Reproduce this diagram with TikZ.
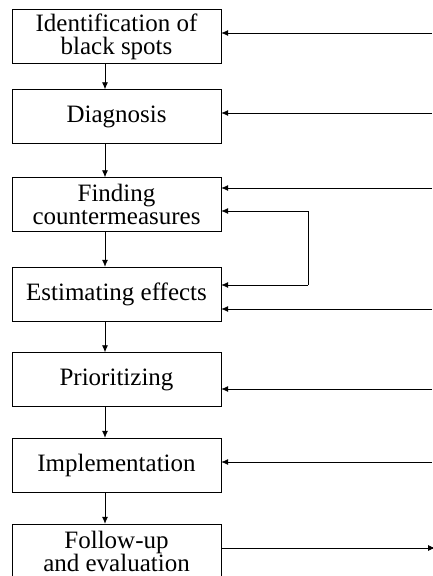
\documentclass[tikz,border=0pt]{standalone}
\usepackage{fontspec}
\setmainfont{Liberation Serif}
\usetikzlibrary{arrows.meta}

\begin{document}
\begin{tikzpicture}[x=1pt, y=-1pt, >={Latex[length=7pt,width=6pt]}]
    \tikzstyle{step_box}=[draw, rectangle, minimum width=209pt, minimum height=54pt, align=center, inner sep=0pt, font=\fontsize{25}{23}\selectfont]
    \tikzstyle{flow_edge}=[line width=0.8pt, ->]

    \useasboundingbox (0,0) rectangle (432,576);

    % --- Steps ---
    \node[step_box] (ident) at (116.5,36.5) {Identification of\\black spots};
    \node[step_box] (diag)  at (116.5,116.5) {Diagnosis};
    \node[step_box] (find)  at (116.5,204.5) {Finding\\countermeasures};
    \node[step_box] (est)   at (116.5,294) {Estimating effects};
    \node[step_box, text height=17pt, text depth=5pt] (prio)  at (116.5,379.5) {Prioritizing};
    \node[step_box] (impl)  at (116.5,465) {Implementation};
    \node[step_box] (follow) at (116.5,551) {Follow-up\\and evaluation};

    % --- Down arrows ---
    \coordinate (col) at (105,0);
    \draw[flow_edge] (ident.south -| col) -- (diag.north -| col);
    \draw[flow_edge] (diag.south -| col) -- (find.north -| col);
    \draw[flow_edge] (find.south -| col) -- (est.north -| col);
    \draw[flow_edge] (est.south -| col) -- (prio.north -| col);
    \draw[flow_edge] (prio.south -| col) -- (impl.north -| col);
    \draw[flow_edge] (impl.south -| col) -- (follow.north -| col);

    % --- Inputs from the right ---
    \coordinate (in1) at (432,33);
    \coordinate (in2) at (432,113);
    \coordinate (in3) at (432,188);
    \coordinate (in4) at (432,309);
    \coordinate (in5) at (432,389);
    \coordinate (in6) at (432,462);
    \draw[flow_edge] (in1) -- (ident.east |- in1);
    \draw[flow_edge] (in2) -- (diag.east |- in2);
    \draw[flow_edge] (in3) -- (find.east |- in3);
    \draw[flow_edge] (in4) -- (est.east |- in4);
    \draw[flow_edge] (in5) -- (prio.east |- in5);
    \draw[flow_edge] (in6) -- (impl.east |- in6);

    % Loop
    \coordinate (loop_top) at (308,211);
    \coordinate (loop_bot) at (308,285);
    \draw[flow_edge] (loop_bot) -- (loop_top) -- (find.east |- loop_top);
    \draw[flow_edge] (loop_bot) -- (est.east |- loop_bot);

    % Output
    \coordinate (out) at (435,548);
    \draw[flow_edge] (follow.east |- out) -- (out);
  \end{tikzpicture}
\end{document}
